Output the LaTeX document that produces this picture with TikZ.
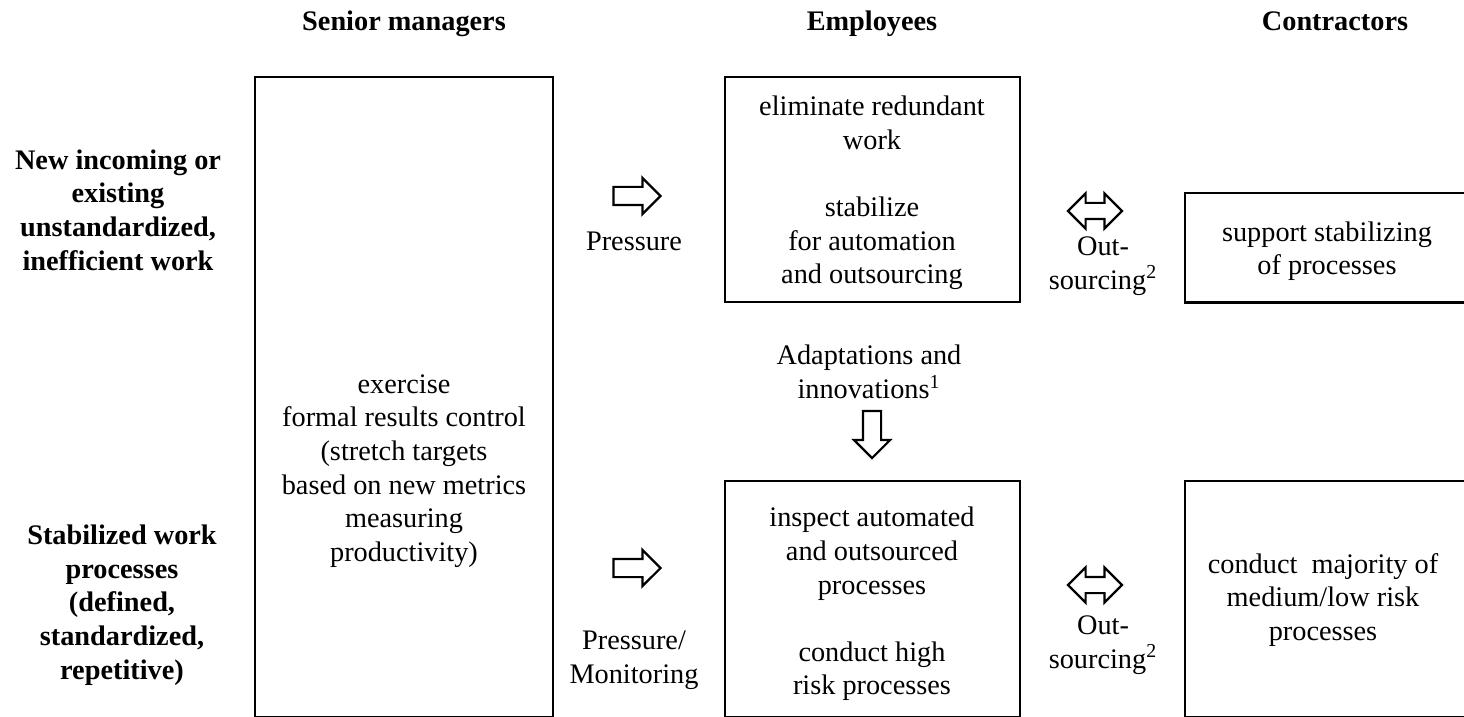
\documentclass[tikz,border=0pt]{standalone}
\usepackage{fontspec}
\setmainfont{Liberation Serif}
\usetikzlibrary{shapes.arrows}
\begin{document}
\begin{tikzpicture}[x=0.5pt,y=-0.5pt,
  every node/.style={font=\fontsize{14.15pt}{16.8pt}\selectfont, inner sep=0pt},
  boxed/.style={draw, line width=1.35pt, rectangle, minimum width=#1},
  txt/.style={align=center},
  bold/.style={align=center, font=\fontsize{14.15pt}{16.8pt}\selectfont\bfseries},
  sarrow/.style={draw, line width=1.1pt, single arrow, single arrow head extend=4.5pt,
     text height=8pt, text depth=0pt, minimum height=23.5pt},
  darrow/.style={draw, line width=1.1pt, double arrow, double arrow head extend=4.75pt,
     text height=7pt, text depth=0pt, minimum height=27pt}]
\useasboundingbox (0,0) rectangle (1464,717);
\clip (0,0) rectangle (1464,717);
% headers
\node[bold, anchor=base] (hSM) at (404,31) {Senior managers};
\node[bold, anchor=base] (hE) at (872,31) {Employees};
\node[bold, anchor=base] (hC) at (1335,31) {Contractors};
% row labels
\node[bold] (rowA) at (118,210) {New incoming or\\existing\\unstandardized,\\inefficient work};
\node[bold] (rowB) at (122,605) {Stabilized work\\processes\\(defined,\\standardized,\\repetitive)};
% boxes
\node[boxed=149pt, minimum height=320pt] (smbox) at (404,397) {};
\node[boxed=147.5pt, minimum height=112.5pt] (ebox1) at (872.5,189.5) {};
\node[boxed=147.5pt, minimum height=118pt] (ebox2) at (872.5,599) {};
\node[boxed=147.5pt, minimum height=54.75pt] (cbox1) at (1332.5,247.75) {};
\node[boxed=147.5pt, minimum height=118pt] (cbox2) at (1332.5,599) {};
% box texts
\node[txt] (smtext) at (404,471) {exercise\\formal results control\\(stretch targets\\based on new metrics\\measuring\\productivity)};
\node[txt] (e1text) at (872,193) {eliminate redundant\\work\\[16.8pt]stabilize\\for automation\\and outsourcing};
\node[txt] (e2text) at (872,604) {inspect automated\\and outsourced\\processes\\[16.8pt]conduct high\\risk processes};
\node[txt] (c1text) at (1327,251) {support stabilizing\\of processes};
\node[txt] (c2text) at (1323,600) {conduct\ \ majority of\\medium/low risk\\processes};
% arrows and labels
\node[sarrow] (ar1) at (632.5,196) {};
\node[txt] (pr1) at (634,241) {Pressure};
\node[sarrow] (ar2) at (632.5,568) {};
\node[txt] (pr2) at (634,660) {Pressure/\\Monitoring};
\node[darrow] (dar1) at (1095,211) {};
\node[txt] (out1) at (1103,266) {Out-\\sourcing\textsuperscript{2}};
\node[darrow] (dar2) at (1095,585) {};
\node[txt] (out2) at (1103,645) {Out-\\sourcing\textsuperscript{2}};
\node[txt] (adapt) at (869,372) {Adaptations and\\innovations\textsuperscript{1}};
\node[sarrow, rotate=-90] (dn) at (872,430) {};
\end{tikzpicture}
\end{document}
